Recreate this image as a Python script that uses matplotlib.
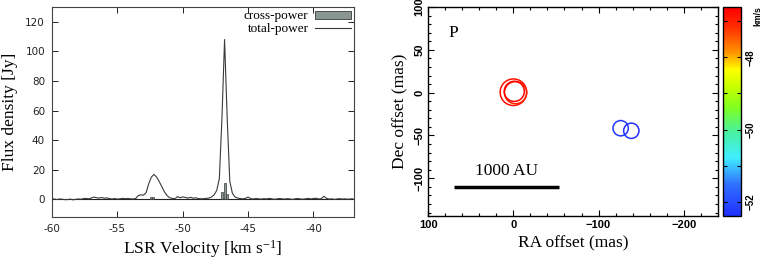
import numpy as np
import matplotlib
matplotlib.use('Agg')
import matplotlib.pyplot as plt
from matplotlib.colors import LinearSegmentedColormap, Normalize
from matplotlib.patches import Patch
from matplotlib.lines import Line2D
from matplotlib.ticker import MultipleLocator, FixedLocator, FuncFormatter

plt.rcParams['mathtext.fontset'] = 'custom'
plt.rcParams['mathtext.rm'] = 'Liberation Serif'
plt.rcParams['mathtext.it'] = 'Liberation Serif:italic'
plt.rcParams['axes.unicode_minus'] = False

# ------------------------------------------------------------
# Spectrum data (channel spacing 0.2 km/s, -60 .. -37)
# ------------------------------------------------------------
velocity = np.round(np.arange(-60.0, -36.99, 0.2), 2)
total_power = [
    0.3, 0.1, -0.2, 0.2, 0.0, -0.3, -0.2, 0.1, -0.4, -0.1,
    0.2, 0.0, 0.4, 0.6, 0.3, 0.8, 1.5, 1.0, 0.8, 1.2,
    0.7, 0.9, 0.4, 0.2, 0.5, 0.1, 0.3, 0.6, 0.4, 0.5,
    0.3, 0.2, 0.5, 2.5, 3.0, 2.8, 4.5, 10.5, 15.0, 16.8,
    15.0, 12.0, 8.5, 5.0, 2.5, 1.0, 0.6, 0.3, 1.8, 1.0,
    1.6, 1.2, 0.8, 1.3, 0.7, 1.0, 0.5, 0.3, 0.4, 0.6,
    0.8, 1.5, 3.0, 6.0, 14.0, 55.0, 108.0, 55.0, 12.0, 4.0,
    1.5, 0.8, 0.5, 0.3, 0.6, 1.5, 0.4, 0.2, 0.5, 0.3,
    0.1, 0.4, 0.2, 0.6, 0.3, 0.0, 0.2, 0.5, 0.3, 0.1,
    0.4, 0.2, -0.1, 0.3, 0.5, 0.2, 0.0, 0.3, 0.6, 0.2,
    0.5, 0.7, 0.2, 0.4, 2.0, 0.6, 0.1, 0.3, -0.1, 0.2,
    0.4, 0.1, 0.3, 0.0, 0.2, 0.3,
]

cross_vel = [-52.45, -52.3, -47.0, -46.8, -46.6]
cross_flux = [1.5, 1.5, 5.0, 11.0, 3.5]

# ------------------------------------------------------------
# Maser spot map data
# ------------------------------------------------------------
spot_ra = [0.0, -2.5, -1.0, -126.0, -138.5]
spot_dec = [0.5, 0.0, 1.5, -41.5, -44.5]
spot_vel = [-46.8, -47.0, -46.6, -52.3, -52.45]
spot_flux = [11.0, 5.0, 3.5, 1.5, 1.5]

cbar_ticks = [-52, -50, -48]
cbar_minor = [-51, -49, -47]
vmin, vmax = -52.4, -46.6

serif = 'Liberation Serif'
uminus = FuncFormatter(lambda v, p: f'{v:.0f}'.replace('-', '\u2212'))

fig = plt.figure(figsize=(7.63, 2.61), dpi=100)

# ------------------------------------------------------------
# Left : spectrum
# ------------------------------------------------------------
ax1 = fig.add_axes([52/763, 44/261, 302/763, 210/261])
ax1.bar(cross_vel, cross_flux, width=0.15, color='#8a9692',
        edgecolor='#3a3a3a', linewidth=0.5, zorder=2)
ax1.plot(velocity, total_power, color='#3a3a3a', linewidth=0.8, zorder=3)
ax1.axhline(0, color='#222222', linewidth=0.8, zorder=1)

ax1.set_xlim(-60, -36.9)
ax1.set_ylim(-12, 130)
ax1.xaxis.set_major_locator(MultipleLocator(5))
ax1.yaxis.set_major_locator(FixedLocator([0, 20, 40, 60, 80, 100, 120]))
ax1.tick_params(direction='in', top=True, right=True, length=4, width=0.7,
                labelsize=7.5, colors='#222222', pad=5)
for s in ax1.spines.values():
    s.set_color('#444444')
    s.set_linewidth(0.8)
ax1.set_xlabel(r'LSR Velocity [km s$^{\mathrm{-1}}$]', family=serif, fontsize=12.5, labelpad=3)
ax1.set_ylabel('Flux density [Jy]', family=serif, fontsize=12.5, labelpad=5)

handles = [Patch(facecolor='#8a9692', edgecolor='#3a3a3a', linewidth=0.6),
           Line2D([], [], color='#3a3a3a', linewidth=0.8)]
ax1.legend(handles, ['cross-power', 'total-power'], loc='upper right',
           markerfirst=False, frameon=False, prop={'family': serif, 'size': 9.5},
           handlelength=2.7, handleheight=0.55, handletextpad=0.5,
           labelspacing=0.05, borderaxespad=0.1, borderpad=0.15)

# ------------------------------------------------------------
# Right : spot map
# ------------------------------------------------------------
cmap = LinearSegmentedColormap.from_list('maser', [
    (0.00, '#2030ff'), (0.15, '#3070ff'), (0.28, '#40f0ff'),
    (0.40, '#48f0a0'), (0.52, '#80ff20'), (0.62, '#c8ff00'),
    (0.70, '#ffff00'), (0.78, '#ff9800'), (0.90, '#ff3000'),
    (1.00, '#ff0000')])
norm = Normalize(vmin=vmin, vmax=vmax)

ax2 = fig.add_axes([428.3/763, 45/261, 289.4/763, 209/261])
diam = 13 + 13 * np.log10(np.array(spot_flux))
ax2.scatter(spot_ra, spot_dec, s=diam**2 * 0.52, facecolors='none',
            edgecolors=cmap(norm(np.array(spot_vel))), linewidths=1.1)

ax2.plot([70, -54], [-110, -110], color='black', linewidth=2.5, solid_capstyle='butt')
ax2.text(8, -92, '1000 AU', family=serif, fontsize=12.5, ha='center', va='center')
ax2.text(71, 70, 'P', family=serif, fontsize=12.5, ha='center', va='center')

ax2.set_xlim(100, -240)
ax2.set_ylim(-144, 100)
ax2.xaxis.set_major_locator(MultipleLocator(100))
ax2.xaxis.set_minor_locator(MultipleLocator(20))
ax2.yaxis.set_major_locator(MultipleLocator(50))
ax2.yaxis.set_minor_locator(MultipleLocator(10))
ax2.xaxis.set_major_formatter(uminus)
ax2.yaxis.set_major_formatter(uminus)
ax2.tick_params(which='both', direction='in', top=True, right=True, width=0.8)
ax2.tick_params(which='major', length=4, labelsize=8, pad=3)
ax2.tick_params(which='minor', length=2)
for lab in ax2.get_xticklabels() + ax2.get_yticklabels():
    lab.set_fontfamily('Liberation Sans')
    lab.set_fontweight('bold')
for lab in ax2.get_yticklabels():
    lab.set_rotation(90)
    lab.set_va('center')
for s in ax2.spines.values():
    s.set_linewidth(1.0)
ax2.set_xlabel('RA offset (mas)', family=serif, fontsize=12.5, labelpad=4)
ax2.set_ylabel('Dec offset (mas)', family=serif, fontsize=12.5, labelpad=4)

# ------------------------------------------------------------
# Colorbar
# ------------------------------------------------------------
cax = fig.add_axes([723.3/763, 45/261, 17.7/763, 209/261])
sm = matplotlib.cm.ScalarMappable(norm=norm, cmap=cmap)
cb = fig.colorbar(sm, cax=cax)
cb.outline.set_linewidth(1.0)
cax.yaxis.set_major_locator(FixedLocator(cbar_ticks))
cax.yaxis.set_minor_locator(FixedLocator(cbar_minor))
cax.yaxis.set_major_formatter(uminus)
cax.tick_params(which='both', direction='in', left=True, right=True, width=0.8)
cax.tick_params(which='major', length=3, labelsize=7, pad=3)
cax.tick_params(which='minor', length=3)
for lab in cax.get_yticklabels():
    lab.set_rotation(90)
    lab.set_va('center')
    lab.set_fontfamily('Liberation Sans')
    lab.set_fontweight('bold')
cax.text(1.95, 0.955, 'km/s', transform=cax.transAxes, rotation=90,
         fontsize=6.3, fontweight='bold', family='Liberation Sans',
         ha='center', va='center')

fig.savefig('out.png', dpi=100)
